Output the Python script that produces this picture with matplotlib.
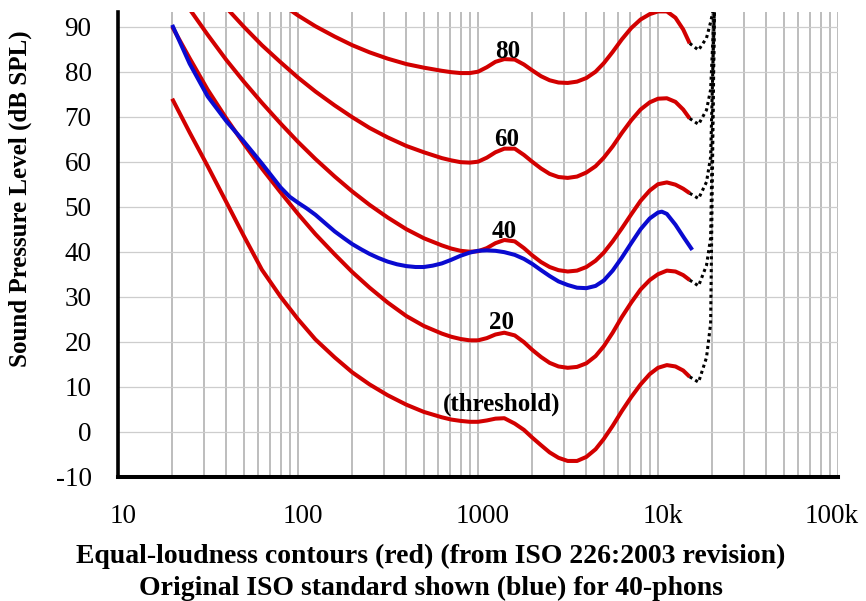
import numpy as np
import matplotlib.pyplot as plt
from matplotlib.transforms import ScaledTranslation

plt.rcParams['font.family'] = ['Liberation Serif', 'DejaVu Serif']
plt.rcParams['axes.unicode_minus'] = False

# frequencies (Hz) for the red contours
freqs = [20, 25, 31.5, 40, 50, 63, 80, 100, 125, 160, 200, 250, 315, 400, 500,
         630, 710, 800, 900, 1000, 1120, 1250, 1400, 1600, 1800, 2000, 2240, 2500,
         2800, 3150, 3550, 4000, 4500, 5000, 5600, 6300, 7100, 8000, 9000, 10000,
         11200, 12500, 13800, 15000]

threshold = [74.0, 66.5, 59.0, 51.0, 43.5, 36.0, 30.0, 25.0, 20.5, 16.5, 13.2,
             10.5, 8.1, 6.0, 4.4, 3.2, 2.7, 2.4, 2.2, 2.2, 2.5, 2.9, 3.0, 1.8,
             0.4, -1.3, -3.0, -4.6, -5.8, -6.5, -6.5, -5.6, -3.9, -1.6, 1.3, 4.6,
             7.7, 10.5, 12.8, 14.2, 14.8, 14.5, 13.6, 12.2]
phon20 = [90.0, 83.0, 76.0, 69.6, 64.0, 58.5, 53.2, 48.4, 43.9, 39.4, 35.5, 32.0,
          28.7, 25.7, 23.5, 21.8, 21.1, 20.6, 20.3, 20.3, 20.8, 21.6, 22.0, 21.4,
          19.9, 18.2, 16.6, 15.3, 14.5, 14.2, 14.4, 15.2, 16.8, 19.0, 22.0, 25.5,
          28.7, 31.6, 33.7, 35.0, 35.8, 35.6, 34.8, 33.7]
phon40 = [99.9, 93.9, 88.2, 82.6, 77.8, 73.1, 68.5, 64.4, 60.6, 56.7, 53.4, 50.4,
          47.6, 45.0, 43.0, 41.4, 40.7, 40.2, 40.0, 40.1, 40.8, 41.9, 42.6, 42.3,
          40.8, 39.2, 37.7, 36.6, 35.9, 35.6, 35.8, 36.6, 38.0, 39.8, 42.3, 45.2,
          48.3, 51.3, 53.6, 55.0, 55.4, 54.9, 54.0, 53.0]
phon60 = [109.5, 104.2, 99.1, 94.2, 90.0, 85.9, 82.1, 78.7, 75.6, 72.5, 69.9, 67.5,
          65.4, 63.5, 62.1, 60.8, 60.3, 59.9, 59.8, 60.0, 60.9, 62.1, 62.9, 62.9,
          61.5, 60.0, 58.5, 57.3, 56.6, 56.4, 56.7, 57.6, 59.0, 60.9, 63.4, 66.4,
          69.2, 71.6, 73.2, 74.0, 74.1, 73.3, 71.6, 69.6]
phon80 = [119.0, 114.2, 109.7, 105.3, 101.7, 98.4, 95.2, 92.5, 90.1, 87.8, 85.9,
          84.3, 82.9, 81.7, 80.9, 80.2, 79.9, 79.7, 79.7, 80.0, 81.0, 82.2, 82.8,
          82.7, 81.6, 80.3, 79.0, 78.1, 77.6, 77.5, 77.8, 78.6, 80.0, 81.9, 84.4,
          87.2, 89.7, 91.6, 92.8, 93.4, 93.4, 92.0, 89.4, 86.3]

# original ISO 40-phon curve (blue)
iso_freqs = [20, 25, 31.5, 40, 50, 63, 80, 90, 100, 112, 125, 140, 160, 180, 200,
             225, 250, 280, 315, 355, 400, 450, 500, 560, 630, 710, 800, 900, 1000,
             1120, 1250, 1400, 1600, 1800, 2000, 2240, 2500, 2800, 3150, 3550, 4000,
             4500, 5000, 5600, 6300, 7100, 8000, 9000, 10000, 10500, 11200, 12500,
             14000, 15500]
iso_40 = [90.4, 81.8, 74.5, 69.0, 64.5, 59.6, 54.3, 52.2, 50.9, 49.6, 48.2, 46.5,
          44.5, 43.0, 41.7, 40.5, 39.5, 38.6, 37.8, 37.2, 36.8, 36.6, 36.6, 36.9,
          37.4, 38.2, 39.1, 39.8, 40.2, 40.3, 40.2, 39.9, 39.3, 38.4, 37.3, 35.9,
          34.6, 33.4, 32.6, 32.0, 31.9, 32.4, 33.6, 35.8, 38.7, 41.9, 45.0, 47.4,
          48.7, 48.9, 48.4, 46.0, 43.0, 40.4]

# dotted extrapolation towards 20 kHz
tail_hz = [15000, 16800, 18600, 19600, 20600]
tails = [
    [12.2, 11.0, 16.5, 24.0, 95.0],
    [33.7, 32.4, 37.0, 43.0, 95.0],
    [53.0, 51.8, 55.5, 61.0, 95.0],
    [69.6, 68.3, 71.5, 76.0, 95.0],
    [86.3, 84.8, 87.5, 91.0, 95.0],
]

labels = ['(threshold)', '20', '40', '60', '80']
label_x = [1350, 1350, 1406, 1443, 1470]
label_y = [6.2, 24.2, 44.4, 65.0, 84.4]

xticks = [10, 100, 1000, 10000, 100000]
xtick_labels = ['10', '100', '1000', '10k', '100k']
xtick_nudge = [5, 5, 5, 5, -6]   # pixels, so "100k" stays on the canvas
yticks = list(range(-10, 100, 10))

red = '#d20000'
blue = '#0a0ad0'

fig = plt.figure(figsize=(8.66, 6.01), dpi=100)
ax = fig.add_axes([118 / 866, 1 - 476.7 / 601, 720 / 866, 464.7 / 601])

ax.set_xscale('log')
ax.set_xlim(10, 100000)
ax.set_ylim(-10, 93.27)

# grid: vertical at every log step, horizontal every 10 dB
minor = [m * 10 ** d for d in range(1, 5) for m in range(2, 10)] + [100, 1000, 10000, 100000]
for f in minor:
    ax.axvline(f, color='#ababab', lw=1.1, zorder=0)
for v in yticks[1:]:
    ax.axhline(v, color='#cdcdcd', lw=0.9, zorder=0)

for curve in [threshold, phon20, phon40, phon60, phon80]:
    ax.plot(freqs, curve, color=red, lw=2.9, solid_capstyle='butt', zorder=3)
ax.plot(iso_freqs, iso_40, color=blue, lw=2.9, solid_capstyle='butt', zorder=4)
for t in tails:
    ax.plot(tail_hz, t, color='black', lw=2.2, linestyle=(0, (1, 1.1)),
            dash_capstyle='butt', zorder=3)

for txt, lx, ly in zip(labels, label_x, label_y):
    ax.text(lx, ly, txt, ha='center', va='center', fontsize=18,
            fontweight='bold', zorder=5)

ax.set_xticks(xticks)
ax.set_xticklabels(xtick_labels)
ax.xaxis.set_minor_locator(plt.NullLocator())
ax.set_yticks(yticks)
ax.set_yticklabels([str(v) for v in yticks])
ax.tick_params(axis='both', length=0, labelsize=19.5)
ax.tick_params(axis='x', pad=20)
ax.tick_params(axis='y', pad=19)

for lab, dx in zip(ax.get_xticklabels(), xtick_nudge):
    lab.set_transform(lab.get_transform() + ScaledTranslation(dx / 100, 0, fig.dpi_scale_trans))

for side in ['top', 'right']:
    ax.spines[side].set_visible(False)
ax.spines['left'].set_linewidth(2.6)
ax.spines['bottom'].set_linewidth(2.9)

fig.text(20 / 866, 1 - 199 / 601, 'Sound Pressure Level (dB SPL)', rotation=90,
         ha='center', va='center', fontsize=18, fontweight='bold')
fig.text(431 / 866, 1 - 556 / 601,
         'Equal-loudness contours (red) (from ISO 226:2003 revision)',
         ha='center', va='center', fontsize=20, fontweight='bold')
fig.text(431 / 866, 1 - 588 / 601,
         'Original ISO standard shown (blue) for 40-phons',
         ha='center', va='center', fontsize=20, fontweight='bold')

fig.savefig('out.png', dpi=100)
